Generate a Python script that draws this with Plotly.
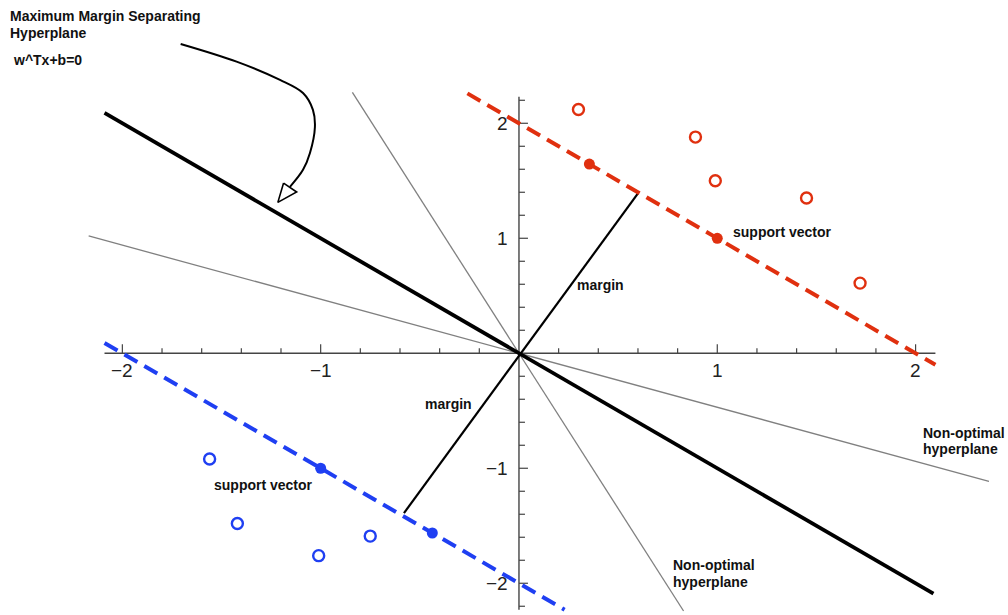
import numpy as np
import plotly.graph_objects as go

# Class +1 samples (red) and class -1 samples (blue)
red_x = [0.30, 0.89, 0.99, 1.45, 1.72]
red_y = [2.12, 1.88, 1.50, 1.35, 0.61]
red_sv_x = [0.355, 1.0]
red_sv_y = [1.645, 1.0]

blue_x = [-1.56, -1.42, -1.01, -0.75]
blue_y = [-0.92, -1.48, -1.76, -1.59]
blue_sv_x = [-1.0, -0.437]
blue_sv_y = [-1.0, -1.563]

# Separating hyperplane w.x + b = 0 with w = (1, 1); margin planes at b = -2 and b = +2
w = (1.0, 1.0)
b_opt = 0.0
b_upper = -2.0
b_lower = 2.0
opt_span = [-2.09, 2.09]
upper_span = [-0.26, 2.10]
lower_span = [-2.09, 0.23]

# Two non-optimal separating lines through the origin
nonopt_slopes = [-2.7, -0.47]
nonopt_spans = [[-0.84, 0.83], [-2.17, 2.37]]

# Margin segment drawn between the two margin planes
margin_x = [-0.58, 0.60]
margin_y = [-1.39, 1.39]

# Axes drawn through the origin
x_axis_span = [-2.09, 2.10]
y_axis_span = [-2.23, 2.23]
x_major = [-2, -1, 1, 2]
y_major = [-2, -1, 1, 2]
x_minor = [round(v, 1) for v in np.arange(-2.0, 2.01, 0.2)]
y_minor = [round(v, 1) for v in np.arange(-2.2, 2.21, 0.2)]
x_labels = ["\u22122", "\u22121", "1", "2"]
y_labels = ["\u22122", "\u22121", "1", "2"]

# Pointer arrow from the title to the hyperplane
arrow_x = [-1.706, -1.424, -1.205, -1.089, -1.039, -1.029, -1.054, -1.089, -1.155]
arrow_y = [2.690, 2.536, 2.377, 2.263, 2.117, 1.968, 1.742, 1.595, 1.447]
head_x = [-1.187, -1.121, -1.216, -1.187]
head_y = [1.480, 1.402, 1.312, 1.480]

X_RANGE = [-2.617, 2.466]
Y_RANGE = [-2.276, 3.072]
W, H = 1008, 615
px_x = W / (X_RANGE[1] - X_RANGE[0])
px_y = H / (Y_RANGE[1] - Y_RANGE[0])

RED = "#e0300f"
BLUE = "#1f3ff2"
AXIS = "#444444"
TXT = "#111111"
FONT = "Liberation Sans, Arial, sans-serif"


def plane_line(b, span):
    xs = np.array(span)
    ys = -(w[0] * xs + b) / w[1]
    return xs, ys


fig = go.Figure()


def add_line(xs, ys, color, width, dash="solid"):
    fig.add_trace(go.Scatter(x=list(xs), y=list(ys), mode="lines",
                             line=dict(color=color, width=width, dash=dash),
                             hoverinfo="skip", showlegend=False))


# axes and ticks
add_line(x_axis_span, [0, 0], AXIS, 1.4)
add_line([0, 0], y_axis_span, AXIS, 1.4)
tx, ty = [], []
for v in x_minor:
    if v == 0:
        continue
    L = (9 if v in x_major else 5) / px_y
    tx += [v, v, None]
    ty += [0, L, None]
for v in y_minor:
    if v == 0:
        continue
    L = (9 if v in y_major else 6) / px_x
    tx += [0, L, None]
    ty += [v, v, None]
add_line(tx, ty, AXIS, 1.2)

# non-optimal hyperplanes
for m, span in zip(nonopt_slopes, nonopt_spans):
    xs = np.array(span)
    add_line(xs, m * xs, "#808080", 1.3)

# optimal hyperplane
xs, ys = plane_line(b_opt, opt_span)
add_line(xs, ys, "black", 3.8)

# margin segment
add_line(margin_x, margin_y, "black", 2.2)

# margin planes
xs, ys = plane_line(b_upper, upper_span)
add_line(xs, ys, RED, 4, "15px,8px")
xs, ys = plane_line(b_lower, lower_span)
add_line(xs, ys, BLUE, 4, "15px,8px")

# samples
fig.add_trace(go.Scatter(x=red_x, y=red_y, mode="markers",
                         marker=dict(size=11, color="white", line=dict(color=RED, width=2.4)),
                         hoverinfo="skip", showlegend=False))
fig.add_trace(go.Scatter(x=blue_x, y=blue_y, mode="markers",
                         marker=dict(size=11, color="white", line=dict(color=BLUE, width=2.4)),
                         hoverinfo="skip", showlegend=False))
fig.add_trace(go.Scatter(x=red_sv_x, y=red_sv_y, mode="markers",
                         marker=dict(size=11, color=RED, line=dict(width=0)),
                         hoverinfo="skip", showlegend=False))
fig.add_trace(go.Scatter(x=blue_sv_x, y=blue_sv_y, mode="markers",
                         marker=dict(size=11, color=BLUE, line=dict(width=0)),
                         hoverinfo="skip", showlegend=False))

# pointer arrow
fig.add_trace(go.Scatter(x=arrow_x, y=arrow_y, mode="lines",
                         line=dict(color="black", width=2, shape="spline", smoothing=1.0),
                         hoverinfo="skip", showlegend=False))
fig.add_trace(go.Scatter(x=head_x, y=head_y, mode="lines", fill="toself",
                         fillcolor="white", line=dict(color="black", width=1.6),
                         hoverinfo="skip", showlegend=False))


def at(px, py):
    return dict(x=px / W, y=1 - py / H, xref="paper", yref="paper")


notes = []


def label(text, px, py, size=14, bold=True, anchor="left", color=TXT):
    t = f"<b>{text}</b>" if bold else text
    notes.append(dict(text=t, showarrow=False, xanchor=anchor, yanchor="middle",
                      font=dict(family=FONT, size=size, color=color), **at(px, py)))


label("Maximum Margin Separating", 7.5, 16)
label("Hyperplane", 7.5, 33)
label("w^Tx+b=0", 11, 60)
label("support vector", 731, 232)
label("margin", 575, 285)
label("margin", 423, 404)
label("support vector", 212, 485)
label("Non-optimal", 921, 433)
label("hyperplane", 921, 449.5)
label("Non-optimal", 671, 565)
label("hyperplane", 671, 582)

# tick labels
for v, s in zip(x_major, x_labels):
    notes.append(dict(text=s, x=v, y=0, xref="x", yref="y", showarrow=False,
                      xanchor="center", yanchor="middle", yshift=-17,
                      font=dict(family=FONT, size=19, color="#222222")))
for v, s in zip(y_major, y_labels):
    notes.append(dict(text=s, x=0, y=v, xref="x", yref="y", showarrow=False,
                      xanchor="right", yanchor="middle", xshift=-9,
                      font=dict(family=FONT, size=19, color="#222222")))

fig.update_layout(
    width=W, height=H,
    margin=dict(l=0, r=0, t=0, b=0),
    paper_bgcolor="white", plot_bgcolor="white",
    xaxis=dict(range=X_RANGE, visible=False, fixedrange=True),
    yaxis=dict(range=Y_RANGE, visible=False, fixedrange=True),
    annotations=notes,
)

fig.write_html("out.html")
